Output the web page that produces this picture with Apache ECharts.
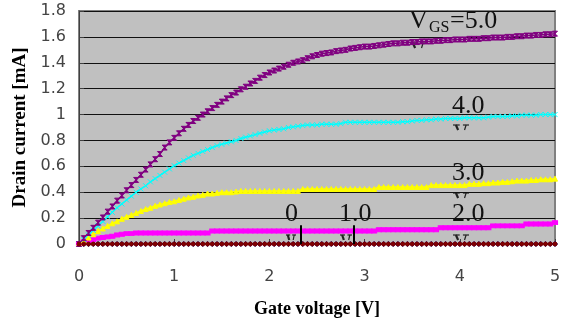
<!DOCTYPE html>
<html>
<head>
<meta charset="utf-8">
<script src="https://cdn.jsdelivr.net/npm/echarts@6.0.0/dist/echarts.min.js"></script>
<style>
  html, body { margin: 0; padding: 0; background: #fff; }
  #chart { width: 568px; height: 323px; }
</style>
</head>
<body>
<div id="chart"></div>
<script>
// gate voltage [V], one reading every 0.05 V
const volt = [
  0, 0.05, 0.1, 0.15, 0.2, 0.25, 0.3, 0.35, 0.4, 0.45,
  0.5, 0.55, 0.6, 0.65, 0.7, 0.75, 0.8, 0.85, 0.9, 0.95,
  1, 1.05, 1.1, 1.15, 1.2, 1.25, 1.3, 1.35, 1.4, 1.45,
  1.5, 1.55, 1.6, 1.65, 1.7, 1.75, 1.8, 1.85, 1.9, 1.95,
  2, 2.05, 2.1, 2.15, 2.2, 2.25, 2.3, 2.35, 2.4, 2.45,
  2.5, 2.55, 2.6, 2.65, 2.7, 2.75, 2.8, 2.85, 2.9, 2.95,
  3, 3.05, 3.1, 3.15, 3.2, 3.25, 3.3, 3.35, 3.4, 3.45,
  3.5, 3.55, 3.6, 3.65, 3.7, 3.75, 3.8, 3.85, 3.9, 3.95,
  4, 4.05, 4.1, 4.15, 4.2, 4.25, 4.3, 4.35, 4.4, 4.45,
  4.5, 4.55, 4.6, 4.65, 4.7, 4.75, 4.8, 4.85, 4.9, 4.95,
  5
]

// drain current [mA] for each VGS
const vgs0 = [
  0, 0, 0, 0, 0, 0, 0, 0, 0, 0,
  0, 0, 0, 0, 0, 0, 0, 0, 0, 0,
  0, 0, 0, 0, 0, 0, 0, 0, 0, 0,
  0, 0, 0, 0, 0, 0, 0, 0, 0, 0,
  0, 0, 0, 0, 0, 0, 0, 0, 0, 0,
  0, 0, 0, 0, 0, 0, 0, 0, 0, 0,
  0, 0, 0, 0, 0, 0, 0, 0, 0, 0,
  0, 0, 0, 0, 0, 0, 0, 0, 0, 0,
  0, 0, 0, 0, 0, 0, 0, 0, 0, 0,
  0, 0, 0, 0, 0, 0, 0, 0, 0, 0,
  0
]
const vgs1 = [
  0, 0, 0, 0, 0, 0, 0, 0, 0, 0,
  0, 0, 0, 0, 0, 0, 0, 0, 0, 0,
  0, 0, 0, 0, 0, 0, 0, 0, 0, 0,
  0, 0, 0, 0, 0, 0, 0, 0, 0, 0,
  0, 0, 0, 0, 0, 0, 0, 0, 0, 0,
  0, 0, 0, 0, 0, 0, 0, 0, 0, 0,
  0, 0, 0, 0, 0, 0, 0, 0, 0, 0,
  0, 0, 0, 0, 0, 0, 0, 0, 0, 0,
  0, 0, 0, 0, 0, 0, 0, 0, 0, 0,
  0, 0, 0, 0, 0, 0, 0, 0, 0, 0,
  0
]
const vgs2 = [
  0, 0.015, 0.025, 0.035, 0.045, 0.05, 0.055, 0.06, 0.07, 0.075,
  0.08, 0.08, 0.085, 0.085, 0.085, 0.085, 0.085, 0.085, 0.085, 0.085,
  0.085, 0.085, 0.085, 0.085, 0.085, 0.085, 0.085, 0.085, 0.1, 0.1,
  0.1, 0.1, 0.1, 0.1, 0.1, 0.1, 0.1, 0.1, 0.1, 0.1,
  0.1, 0.1, 0.1, 0.1, 0.1, 0.1, 0.1, 0.1, 0.1, 0.1,
  0.1, 0.1, 0.1, 0.1, 0.1, 0.1, 0.1, 0.1, 0.1, 0.1,
  0.1, 0.1, 0.1, 0.11, 0.11, 0.11, 0.11, 0.11, 0.11, 0.11,
  0.11, 0.11, 0.11, 0.11, 0.11, 0.11, 0.125, 0.125, 0.125, 0.125,
  0.125, 0.125, 0.125, 0.125, 0.125, 0.125, 0.125, 0.14, 0.14, 0.14,
  0.14, 0.14, 0.14, 0.14, 0.155, 0.155, 0.155, 0.155, 0.155, 0.155,
  0.165
]
const vgs3 = [
  0, 0.025, 0.05, 0.075, 0.1, 0.12, 0.14, 0.16, 0.175, 0.195,
  0.21, 0.225, 0.24, 0.255, 0.27, 0.28, 0.295, 0.305, 0.315, 0.325,
  0.33, 0.34, 0.35, 0.36, 0.365, 0.375, 0.38, 0.39, 0.39, 0.395,
  0.4, 0.4, 0.4, 0.405, 0.41, 0.41, 0.41, 0.41, 0.41, 0.41,
  0.41, 0.41, 0.41, 0.41, 0.41, 0.41, 0.41, 0.425, 0.425, 0.425,
  0.425, 0.425, 0.425, 0.425, 0.425, 0.425, 0.425, 0.425, 0.425, 0.425,
  0.425, 0.425, 0.425, 0.44, 0.44, 0.44, 0.44, 0.44, 0.44, 0.44,
  0.44, 0.44, 0.44, 0.44, 0.455, 0.455, 0.455, 0.455, 0.455, 0.455,
  0.455, 0.455, 0.465, 0.465, 0.465, 0.47, 0.47, 0.475, 0.475, 0.48,
  0.48, 0.485, 0.49, 0.49, 0.49, 0.495, 0.495, 0.5, 0.5, 0.5,
  0.505
]
const vgs4 = [
  0, 0.035, 0.07, 0.105, 0.14, 0.175, 0.21, 0.245, 0.28, 0.31,
  0.34, 0.37, 0.4, 0.425, 0.45, 0.48, 0.505, 0.53, 0.555, 0.58,
  0.605, 0.625, 0.645, 0.665, 0.685, 0.7, 0.715, 0.73, 0.745, 0.76,
  0.77, 0.78, 0.79, 0.8, 0.815, 0.825, 0.835, 0.845, 0.855, 0.865,
  0.875, 0.88, 0.885, 0.89, 0.9, 0.905, 0.91, 0.915, 0.92, 0.92,
  0.92, 0.925, 0.925, 0.925, 0.925, 0.93, 0.94, 0.94, 0.94, 0.94,
  0.94, 0.94, 0.94, 0.94, 0.94, 0.94, 0.94, 0.94, 0.945, 0.945,
  0.95, 0.955, 0.955, 0.96, 0.96, 0.965, 0.965, 0.97, 0.97, 0.97,
  0.97, 0.975, 0.975, 0.975, 0.975, 0.975, 0.98, 0.985, 0.985, 0.985,
  0.985, 0.99, 0.99, 0.995, 0.995, 0.995, 0.995, 1.0, 1.0, 1.0,
  1.0
]
const vgs5 = [
  0, 0.045, 0.085, 0.125, 0.165, 0.205, 0.25, 0.29, 0.335, 0.375,
  0.415, 0.455, 0.495, 0.535, 0.575, 0.615, 0.655, 0.695, 0.745, 0.785,
  0.82, 0.855, 0.89, 0.92, 0.95, 0.975, 1.0, 1.025, 1.05, 1.075,
  1.1, 1.125, 1.15, 1.17, 1.195, 1.215, 1.24, 1.26, 1.285, 1.305,
  1.325, 1.34, 1.355, 1.37, 1.385, 1.4, 1.41, 1.42, 1.435, 1.45,
  1.46, 1.47, 1.475, 1.48, 1.49, 1.495, 1.5, 1.51, 1.515, 1.52,
  1.525, 1.525, 1.53, 1.535, 1.54, 1.545, 1.55, 1.55, 1.555, 1.555,
  1.56, 1.56, 1.565, 1.565, 1.565, 1.57, 1.57, 1.575, 1.575, 1.58,
  1.58, 1.58, 1.585, 1.585, 1.585, 1.59, 1.59, 1.595, 1.595, 1.595,
  1.6, 1.6, 1.605, 1.605, 1.61, 1.61, 1.615, 1.615, 1.62, 1.62,
  1.625
]

const xTicks = [0, 1, 2, 3, 4, 5]
const yTicks = [0, 0.2, 0.4, 0.6, 0.8, 1, 1.2, 1.4, 1.6, 1.8]

const serif = '"Liberation Serif", "Times New Roman", serif'
const sans = '"DejaVu Sans", Arial, sans-serif'

function pairs (ys) {
  return ys.map((y, i) => [volt[i], y])
}

function curve (name, ys, color, symbol, size, extra) {
  return Object.assign({
    name: name,
    type: 'line',
    data: pairs(ys),
    symbol: symbol,
    symbolSize: size,
    showAllSymbol: true,
    lineStyle: { color: color, width: 1.5 },
    itemStyle: { color: color, borderColor: color, borderWidth: 1 },
    emphasis: { disabled: true },
    z: 3
  }, extra || {})
}

// label text in the plot
function note (x, y, text, size) {
  return { type: 'text', x: x, y: y, z: 10, style: { text: text, font: size + 'px ' + serif, fill: '#111', verticalAlign: 'middle' } }
}

// cut-off top of a "V" seen below each label
function vTop (x, y, w) {
  const h = 5
  return {
    type: 'group', x: x, y: y, z: 10,
    children: [
      { type: 'line', shape: { x1: 0, y1: 0, x2: w * 0.42, y2: 0 }, style: { stroke: '#222', lineWidth: 1.2 } },
      { type: 'line', shape: { x1: w * 0.62, y1: 0, x2: w, y2: 0 }, style: { stroke: '#222', lineWidth: 1.2 } },
      { type: 'line', shape: { x1: w * 0.18, y1: 0, x2: w * 0.32, y2: h }, style: { stroke: '#222', lineWidth: 2.2 } },
      { type: 'line', shape: { x1: w * 0.82, y1: 0, x2: w * 0.72, y2: h }, style: { stroke: '#222', lineWidth: 1.2 } }
    ]
  }
}

const chart = echarts.init(document.getElementById('chart'), null, { renderer: 'canvas' })

chart.setOption({
  animation: false,
  grid: {
    left: 79, right: 13, top: 11, bottom: 76,
    show: true,
    backgroundColor: '#C0C0C0',
    borderColor: '#808080',
    borderWidth: 2
  },
  xAxis: {
    type: 'value',
    min: xTicks[0],
    max: xTicks[xTicks.length - 1],
    interval: 1,
    name: 'Gate voltage [V]',
    nameLocation: 'middle',
    nameGap: 56,
    nameTextStyle: { fontFamily: serif, fontWeight: 'bold', fontSize: 18, color: '#000' },
    axisLine: { show: true, lineStyle: { color: '#404040', width: 1 } },
    axisTick: { show: true, inside: true, length: 5, lineStyle: { color: '#404040' } },
    axisLabel: { margin: 25, fontFamily: sans, fontSize: 16, color: '#444' },
    splitLine: { show: false }
  },
  yAxis: {
    type: 'value',
    min: yTicks[0],
    max: yTicks[yTicks.length - 1],
    interval: 0.2,
    name: 'Drain current [mA]',
    nameLocation: 'middle',
    nameRotate: 90,
    nameGap: 44,
    nameTextStyle: { fontFamily: serif, fontWeight: 'bold', fontSize: 19, color: '#000' },
    axisLine: { show: true, lineStyle: { color: '#404040', width: 1 } },
    axisTick: { show: true, inside: true, length: 5, lineStyle: { color: '#404040' } },
    axisLabel: { margin: 13, padding: [5, 0, 0, 0], fontFamily: sans, fontSize: 16, color: '#444' },
    splitLine: { show: true, lineStyle: { color: '#111', width: 1 } }
  },
  series: [
    curve('0', vgs0, '#000080', 'diamond', 5),
    curve('2.0', vgs2, '#FF00FF', 'rect', [5, 4]),
    curve('3.0', vgs3, '#FFFF00', 'triangle', 5),
    curve('4.0', vgs4, '#00FFFF', 'path://M0,0L10,10M10,0L0,10', 5),
    curve('5.0', vgs5, '#800080', 'path://M0,0L10,0L0,10L10,10Z', 5),
    curve('1.0', vgs1, '#800000', 'circle', 4, {
      markLine: {
        silent: true,
        symbol: 'none',
        label: { show: false },
        lineStyle: { color: '#000', width: 2, type: 'solid' },
        data: [
          [{ coord: [2.33, 0.145] }, { coord: [2.33, 0] }],
          [{ coord: [2.89, 0.145] }, { coord: [2.89, 0] }]
        ]
      }
    })
  ],
  graphic: [
    note(409, 21, 'V', 26),
    note(429, 28, 'GS', 16),
    note(450, 21, '=5.0', 26),
    note(452, 106, '4.0', 26),
    note(452, 173, '3.0', 26),
    note(452, 214, '2.0', 26),
    note(285, 214, '0', 26),
    note(339, 214, '1.0', 26),
    vTop(410, 43, 16),
    vTop(453, 125, 16),
    vTop(453, 193, 16),
    vTop(453, 235, 16),
    vTop(286, 235, 10),
    vTop(340, 235, 12)
  ]
})
</script>
</body>
</html>
